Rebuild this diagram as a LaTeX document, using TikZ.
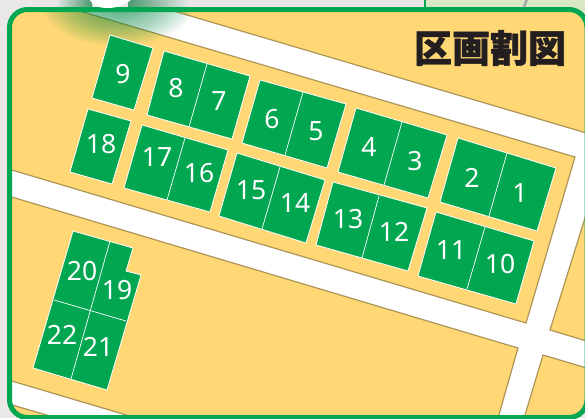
\documentclass[tikz,border=0pt]{standalone}
\usepackage{fontspec}
\setmainfont{Noto Sans}
\newfontfamily\cjk[FakeBold=1.1]{Noto Sans CJK JP Black}
\definecolor{land}{HTML}{FFD875}
\definecolor{edgetan}{HTML}{AD9558}
\definecolor{lotgreen}{HTML}{00A650}
\definecolor{paper}{HTML}{E9E8E6}
\definecolor{ink}{HTML}{231F20}
\definecolor{mapgreen}{HTML}{D9E8C4}
\tikzset{
  parcel/.style={fill=land,draw=edgetan,line width=1.2pt,line join=miter},
  lot/.style={fill=lotgreen,draw=white,line width=0.8pt,line join=miter},
  divider/.style={draw=white,line width=0.7pt},
  num/.style={text=white,font=\fontsize{26.5}{28}\selectfont,inner sep=0pt},
  frameline/.style={draw=lotgreen,line width=5pt},
}
\begin{document}
\begin{tikzpicture}[x=1pt,y=-1pt]
\useasboundingbox (0,0) rectangle (585,418);
% surroundings
\fill[paper] (0,0) rectangle (585,418);
\fill[mapgreen] (425,0) rectangle (585,12);
\draw[black!35,line width=2.5pt] (527,-1) -- (523,10);
\draw[lotgreen,line width=1.7pt] (425,0) -- (425,8);
\shade[left color=paper,right color=lotgreen!65!black!70] (55,0) rectangle (92,8);
\shade[left color=lotgreen!65!black!70,right color=paper] (128,0) rectangle (190,8);
% map interior
\begin{scope}
  \clip[rounded corners=18pt] (9.5,9.5) rectangle (587,417.5);
  \fill[white] (0,0) rectangle (590,420);
  % main block with the lots
  \draw[parcel] (0,-12) -- (83,12) -- (575,157) -- (526,323) -- (-5,165) -- cycle;
  \fill[land] (0,0) -- (90,0) -- (83,12) -- (0,12) -- cycle;
  % top right parcel
  \draw[parcel] (165,8) -- (177,12) -- (583,132) -- (600,136) -- (600,0) -- (165,0) -- cycle;
  % lower large parcel
  \draw[parcel] (-5,192) -- (518,348) -- (496,425) -- (160,425) -- (-5,376) -- cycle;
  % small lower-left parcel
  \draw[parcel] (-5,400) -- (50,416) -- (50,430) -- (-5,430) -- cycle;
  % right parcels
  \draw[parcel] (600,345) -- (550,330) -- (585,218) -- (600,170) -- cycle;
  \draw[parcel] (600,372) -- (543,355) -- (522,425) -- (600,425) -- cycle;
  % glow under the shape at the top
  \foreach \r in {2,4,...,70}{
    \fill[lotgreen!85!black,opacity=0.026] (118,3) ellipse[x radius=\r*1.1,y radius=\r*0.62];
  }
\end{scope}
% lots: top row
\draw[lot] (110,35) -- (153,48) -- (134,110) -- (92,98) -- cycle;
\draw[lot] (164,51) -- (250,76) -- (232,139) -- (147,115) -- cycle;
\draw[divider] (207,64) -- (189,127);
\draw[lot] (260,80) -- (346,104) -- (327,168) -- (242,143) -- cycle;
\draw[divider] (303,92) -- (285,155);
\draw[lot] (356,108) -- (447,135) -- (428,198) -- (338,172) -- cycle;
\draw[divider] (402,122) -- (384,185);
\draw[lot] (458,138) -- (556,168) -- (537,231) -- (440,202) -- cycle;
\draw[divider] (507,153) -- (489,216);
% lots: second row
\draw[lot] (88,109) -- (131,121) -- (112,184) -- (70,172) -- cycle;
\draw[lot] (142,125) -- (228,150) -- (210,212) -- (124,188) -- cycle;
\draw[divider] (185,138) -- (167,200);
\draw[lot] (237,153) -- (325,180) -- (306,243) -- (219,216) -- cycle;
\draw[divider] (280,167) -- (262,229);
\draw[lot] (333,182) -- (427,208) -- (408,271) -- (316,245) -- cycle;
\draw[divider] (379,196) -- (362,258);
\draw[lot] (436,212) -- (534,241) -- (516,304) -- (418,276) -- cycle;
\draw[divider] (485,227) -- (467,289);
% lots: lower group
\draw[lot] (73,231) -- (133,248) -- (126,271) -- (141,275) -- (107,390) -- (33,368) -- cycle;
\draw[divider] (110,241) -- (71,379);
\draw[divider] (54,300) -- (126,321);
% frame
\draw[frameline,rounded corners=18pt] (9.5,9.5) rectangle (587,417.5);
% white shape at the top
\fill[white] (89,-1) .. controls (93,5) and (97,8) .. (108,8) .. controls (118,8) and (126,4) .. (132,-1) -- cycle;
% numbers
\node[num] (n1) at (520,193) {1};
\node[num] (n2) at (472,178) {2};
\node[num] (n3) at (415,161) {3};
\node[num] (n4) at (369,147) {4};
\node[num] (n5) at (316,131) {5};
\node[num] (n6) at (272,119) {6};
\node[num] (n7) at (219,101) {7};
\node[num] (n8) at (176,88) {8};
\node[num] (n9) at (123,74) {9};
\node[num] (n10) at (500,264) {10};
\node[num] (n11) at (451,250) {11};
\node[num] (n12) at (394,232) {12};
\node[num] (n13) at (348,219) {13};
\node[num] (n14) at (295,203) {14};
\node[num] (n15) at (251,190) {15};
\node[num] (n16) at (199,173) {16};
\node[num] (n17) at (157,157) {17};
\node[num] (n18) at (101,144) {18};
\node[num] (n19) at (117,290) {19};
\node[num] (n20) at (82,271) {20};
\node[num] (n21) at (98,347) {21};
\node[num] (n22) at (62,335) {22};
% title
\node[text=ink,inner sep=0pt,font=\cjk\fontsize{38}{40}\selectfont] (title) at (490,48) {区画割図};
\end{tikzpicture}
\end{document}
